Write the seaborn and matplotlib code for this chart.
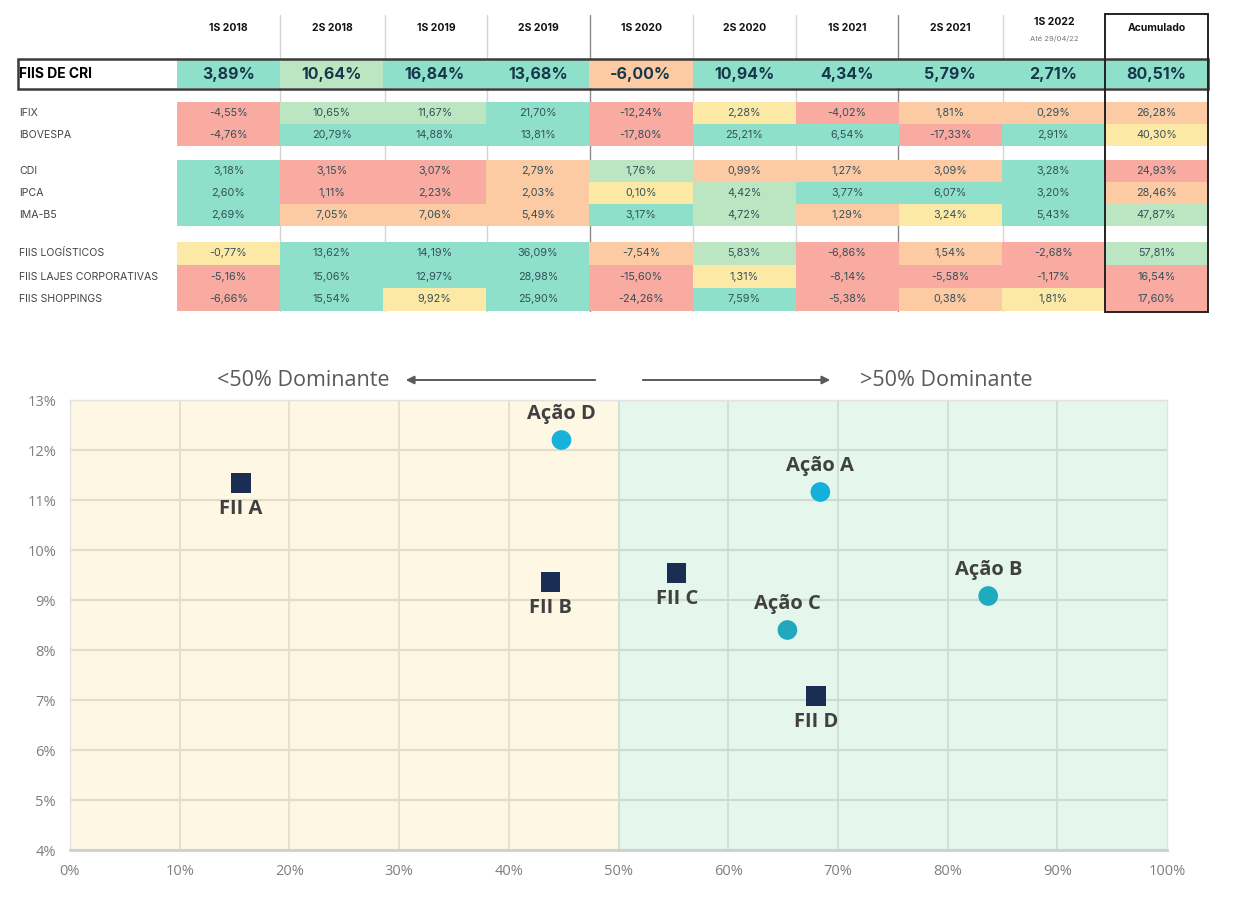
import matplotlib
matplotlib.use('Agg')
import matplotlib.pyplot as plt
from matplotlib.colors import ListedColormap
from matplotlib.patches import Rectangle
import numpy as np
import pandas as pd
import seaborn as sns

# ── Dados da tabela ───────────────────────────────────────────────────────────
PERIODOS = ['1S 2018', '2S 2018', '1S 2019', '2S 2019', '1S 2020',
            '2S 2020', '1S 2021', '2S 2021', '1S 2022', 'Acumulado']

FIIS_CRI = [3.89, 10.64, 16.84, 13.68, -6.00, 10.94, 4.34, 5.79, 2.71, 80.51]

IFIX     = [-4.55, 10.65, 11.67, 21.70, -12.24, 2.28, -4.02, 1.81, 0.29, 26.28]
IBOVESPA = [-4.76, 20.79, 14.88, 13.81, -17.80, 25.21, 6.54, -17.33, 2.91, 40.30]

CDI    = [3.18, 3.15, 3.07, 2.79, 1.76, 0.99, 1.27, 3.09, 3.28, 24.93]
IPCA   = [2.60, 1.11, 2.23, 2.03, 0.10, 4.42, 3.77, 6.07, 3.20, 28.46]
IMA_B5 = [2.69, 7.05, 7.06, 5.49, 3.17, 4.72, 1.29, 3.24, 5.43, 47.87]

FIIS_LOG   = [-0.77, 13.62, 14.19, 36.09, -7.54, 5.83, -6.86, 1.54, -2.68, 57.81]
FIIS_LAJES = [-5.16, 15.06, 12.97, 28.98, -15.60, 1.31, -8.14, -5.58, -1.17, 16.54]
FIIS_SHOP  = [-6.66, 15.54, 9.92, 25.90, -24.26, 7.59, -5.38, 0.38, 1.81, 17.60]

# faixa de cor de cada célula (1 = pior ... 5 = melhor)
NIVEL_CRI   = [[5, 4, 5, 5, 2, 5, 5, 5, 5, 5]]
NIVEL_MERC  = [[1, 4, 4, 5, 1, 3, 1, 2, 2, 2],
               [1, 5, 5, 5, 1, 5, 5, 1, 5, 3]]
NIVEL_RENDA = [[5, 1, 1, 2, 4, 2, 2, 2, 5, 1],
               [5, 1, 1, 2, 3, 4, 5, 5, 5, 2],
               [5, 2, 2, 2, 5, 4, 2, 3, 5, 4]]
NIVEL_FIIS  = [[3, 5, 5, 5, 2, 4, 1, 2, 1, 4],
               [1, 5, 5, 5, 1, 3, 1, 1, 1, 1],
               [1, 5, 3, 5, 1, 5, 1, 2, 3, 1]]

# ── Dados do gráfico de dispersão ─────────────────────────────────────────────
ATIVOS = ['FII A', 'FII B', 'FII C', 'FII D', 'Ação A', 'Ação B', 'Ação C', 'Ação D']
TIPOS  = ['FII', 'FII', 'FII', 'FII', 'Ação', 'Ação', 'Ação', 'Ação']
PCT_X  = [15.6, 43.8, 55.3, 68.0, 68.4, 83.7, 65.4, 44.8]
RET_Y  = [11.34, 9.36, 9.54, 7.08, 11.16, 9.08, 8.40, 12.20]

# ── Estilo ────────────────────────────────────────────────────────────────────
sns.set_theme(style='white')
plt.rcParams['font.family'] = ['Inter', 'DejaVu Sans']
FONTE_GRAF = ['Open Sans', 'DejaVu Sans']

CORES_FAIXA = ['#f9aaa1', '#fccaa3', '#fde9a6', '#bce5c2', '#8fe0cb']
cmap_faixa = ListedColormap(CORES_FAIXA)

W, H = 1234, 902
fig = plt.figure(figsize=(W / 100, H / 100), dpi=100)


def eixo_px(x0, y0, x1, y1):
    """Cria um eixo a partir de coordenadas em pixels (origem no topo)."""
    return fig.add_axes([x0 / W, 1 - y1 / H, (x1 - x0) / W, (y1 - y0) / H])


def fmt_pct(v):
    return f'{v:.2f}'.replace('.', ',') + '%'


# fundo da tabela em pixels
bg = eixo_px(0, 0, W, H)
bg.set_xlim(0, W)
bg.set_ylim(H, 0)
bg.axis('off')

COL_X = [177, 280, 385, 487, 590, 693, 796, 898, 1003, 1105, 1208]
for x in COL_X[1:-2]:
    escuro = x in (590, 898)
    bg.plot([x, x], [15, 311], color='#8a8a8a' if escuro else '#d4d4d4',
            lw=1.0, zorder=0)

# cabeçalho
for i, per in enumerate(PERIODOS):
    cx = (COL_X[i] + COL_X[i + 1]) / 2
    if per == '1S 2022':
        bg.text(cx, 22, per, ha='center', va='center', fontsize=7.5,
                fontweight='bold', color='#111111')
        bg.text(cx, 39, 'Até 29/04/22', ha='center', va='center',
                fontsize=5.5, color='#777777')
    else:
        bg.text(cx, 28, per, ha='center', va='center', fontsize=7.5,
                fontweight='bold', color='#111111')

# ── Blocos da tabela (heatmaps) ───────────────────────────────────────────────
BLOCOS = [
    (['FIIS DE CRI'], [FIIS_CRI], NIVEL_CRI, 60, 88),
    (['IFIX', 'IBOVESPA'], [IFIX, IBOVESPA], NIVEL_MERC, 102, 146),
    (['CDI', 'IPCA', 'IMA-B5'], [CDI, IPCA, IMA_B5], NIVEL_RENDA, 160, 226),
    (['FIIS LOGÍSTICOS', 'FIIS LAJES CORPORATIVAS', 'FIIS SHOPPINGS'],
     [FIIS_LOG, FIIS_LAJES, FIIS_SHOP], NIVEL_FIIS, 242, 311),
]

for nomes, valores, niveis, y0, y1 in BLOCOS:
    ax = eixo_px(COL_X[0], y0, COL_X[-1], y1)
    destaque = nomes[0] == 'FIIS DE CRI'
    niv = pd.DataFrame(niveis, index=nomes, columns=PERIODOS)
    rotulos = np.array([[fmt_pct(v) for v in linha] for linha in valores])
    sns.heatmap(niv, annot=rotulos, fmt='', cmap=cmap_faixa, vmin=0.5, vmax=5.5,
                cbar=False, ax=ax, xticklabels=False, yticklabels=False,
                annot_kws={'fontsize': 11.5 if destaque else 7.8,
                           'fontweight': 'bold' if destaque else 'normal',
                           'color': '#16384a' if destaque else '#34505a'})
    ax.set_xlabel('')
    ax.set_ylabel('')
    alt = (y1 - y0) / len(nomes)
    for k, nome in enumerate(nomes):
        bg.text(19, y0 + alt * (k + 0.5), nome, ha='left', va='center',
                fontsize=10 if destaque else 7.6,
                fontweight='bold' if destaque else 'normal',
                color='#000000' if destaque else '#444444')

# molduras (CRI e Acumulado)
top = eixo_px(0, 0, W, H)
top.set_xlim(0, W)
top.set_ylim(H, 0)
top.axis('off')
top.patch.set_alpha(0)
top.add_patch(Rectangle((18, 59), 1190, 30, fill=False, lw=1.8, ec='#3a3a3a'))
top.add_patch(Rectangle((1105, 14), 103, 298, fill=False, lw=1.4, ec='#222222'))

# setas "Dominante"
top.annotate('', xy=(403, 380), xytext=(598, 380),
             arrowprops=dict(arrowstyle='-|>', color='#5a5a5a', lw=1.4,
                             mutation_scale=12))
top.annotate('', xy=(833, 380), xytext=(640, 380),
             arrowprops=dict(arrowstyle='-|>', color='#5a5a5a', lw=1.4,
                             mutation_scale=12))
top.text(303, 380, '<50% Dominante', ha='center', va='center', fontsize=15.5,
         color='#595959', family=FONTE_GRAF)
top.text(946, 380, '>50% Dominante', ha='center', va='center', fontsize=15.5,
         color='#595959', family=FONTE_GRAF)

# ── Gráfico de dispersão ──────────────────────────────────────────────────────
sc = eixo_px(70, 400, 1167, 850)
sc.set_xlim(0, 100)
sc.set_ylim(4, 13)
sc.axvspan(0, 50, color='#fef7e4', zorder=0)
sc.axvspan(50, 100, color='#e5f6ec', zorder=0)

xt = np.arange(0, 101, 10)
yt = np.arange(4, 14, 1)
sc.set_xticks(xt)
sc.set_yticks(yt)
for x in xt[1:-1]:
    sc.axvline(x, color='#e3dcc7' if x < 50 else '#cbdcd2', lw=1.2, zorder=1)
sc.hlines(yt, 0, 50, color='#e3dcc7', lw=1.6, zorder=1)
sc.hlines(yt, 50, 100, color='#cbdcd2', lw=1.6, zorder=1)

df = pd.DataFrame({'ativo': ATIVOS, 'tipo': TIPOS, 'x': PCT_X, 'y': RET_Y})
paleta = {'FII A': '#1a2d52', 'FII B': '#1a2d52', 'FII C': '#1a2d52',
          'FII D': '#1a2d52', 'Ação A': '#12b0da', 'Ação D': '#16b2da',
          'Ação B': '#1faabf', 'Ação C': '#22a8bc'}
sns.scatterplot(data=df, x='x', y='y', hue='ativo', style='tipo',
                markers={'FII': 's', 'Ação': 'o'}, palette=paleta,
                s=200, linewidth=0, legend=False, ax=sc, zorder=3)

for _, r in df.iterrows():
    dy = -19 if r['tipo'] == 'FII' else 19
    sc.annotate(r['ativo'], (r['x'], r['y']), xytext=(0, dy),
                textcoords='offset points', ha='center', va='center',
                fontsize=14.5, fontweight='bold', color='#404040',
                family=FONTE_GRAF, zorder=4)

sc.xaxis.set_major_formatter(lambda v, p: f'{v:.0f}%')
sc.yaxis.set_major_formatter(lambda v, p: f'{v:.0f}%')
sc.tick_params(axis='both', length=0, labelsize=10.5, labelcolor='#7f7f7f',
               pad=10)
for t in sc.get_xticklabels() + sc.get_yticklabels():
    t.set_family(FONTE_GRAF)
sc.set_xlabel('')
sc.set_ylabel('')
for lado in ('top', 'right', 'left'):
    sc.spines[lado].set_color('#e2e2e2')
    sc.spines[lado].set_linewidth(1.0)
sc.spines['bottom'].set_color('#cfcfcf')
sc.spines['bottom'].set_linewidth(2.0)

fig.savefig('out.png', dpi=100)
